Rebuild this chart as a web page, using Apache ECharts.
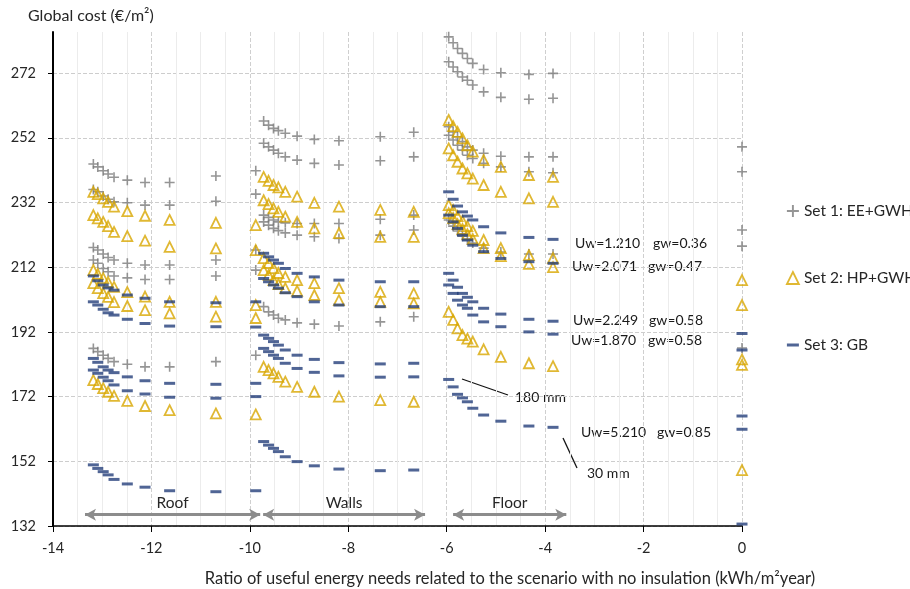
<!DOCTYPE html>
<html>
<head>
<meta charset="utf-8">
<script src="https://cdn.jsdelivr.net/npm/echarts@6/dist/echarts.min.js"></script>
<style>
  html, body { margin: 0; padding: 0; background: #fff; }
  #chart { width: 910px; height: 589px; }
</style>
</head>
<body>
<div id="chart"></div>
<script>
// x = ratio of useful energy needs, one value per insulation thickness (180 mm ... 30 mm)
const roofX  = [-13.18, -13.09, -12.98, -12.88, -12.76, -12.49, -12.13, -11.63, -10.69, -9.88];
const wallsX = [-9.72, -9.62, -9.52, -9.42, -9.28, -9.04, -8.69, -8.19, -7.35, -6.67];
const floorX = [-5.96, -5.87, -5.78, -5.68, -5.58, -5.47, -5.25, -4.90, -4.33, -3.84];

// rows = window types: Uw=1.210, Uw=2.071, Uw=2.249, Uw=1.870, Uw=5.210
const set1Roof = [
  [243.9, 243.0, 241.8, 240.8, 239.8, 238.9, 238.2, 238.2, 240.2, 241.8],
  [236.0, 235.3, 234.0, 233.0, 232.2, 231.9, 231.2, 231.2, 232.4, 234.6],
  [218.1, 217.3, 216.1, 215.0, 214.2, 213.2, 212.7, 212.7, 214.2, 217.3],
  [214.2, 213.2, 211.6, 210.6, 209.3, 208.7, 208.2, 208.2, 209.3, 211.1],
  [186.9, 185.9, 184.8, 183.8, 182.8, 182.0, 181.2, 181.2, 182.8, 184.8]
];
const set2Roof = [
  [235.3, 234.6, 233.3, 232.2, 230.7, 229.3, 227.9, 226.6, 225.7, 225.0],
  [228.1, 227.1, 226.0, 224.7, 222.9, 221.6, 220.2, 218.3, 217.8, 217.3],
  [211.1, 209.9, 208.6, 207.4, 205.9, 204.3, 202.9, 201.3, 201.3, 200.3],
  [207.1, 205.5, 204.0, 202.8, 201.2, 200.0, 198.7, 197.7, 196.7, 196.3],
  [177.1, 175.9, 174.6, 173.5, 172.2, 170.7, 169.1, 167.8, 166.8, 166.5]
];
const set3Roof = [
  [209.3, 207.8, 206.5, 205.6, 204.9, 203.4, 202.4, 201.3, 201.0, 201.3],
  [201.3, 200.3, 199.0, 197.9, 197.2, 195.9, 194.6, 193.8, 193.6, 193.5],
  [183.8, 182.6, 181.2, 180.2, 179.4, 178.1, 176.9, 176.1, 175.8, 176.1],
  [180.2, 179.2, 178.0, 176.9, 175.6, 173.8, 172.8, 171.8, 171.5, 172.0],
  [150.9, 149.8, 148.8, 147.8, 146.4, 145.0, 144.0, 142.9, 142.6, 142.9]
];

const set1Walls = [
  [257.2, 255.9, 254.9, 254.2, 253.4, 252.5, 251.5, 251.1, 252.3, 253.7],
  [250.3, 249.2, 248.2, 247.2, 246.1, 245.1, 244.1, 243.6, 244.9, 246.1],
  [228.1, 227.4, 226.6, 226.0, 225.7, 225.5, 225.5, 225.5, 226.8, 228.1],
  [226.0, 225.0, 224.0, 223.3, 222.6, 221.9, 221.4, 220.9, 221.9, 223.5],
  [199.8, 198.2, 197.2, 196.2, 195.7, 194.8, 194.4, 193.8, 195.1, 196.7]
];
const set2Walls = [
  [239.9, 238.7, 237.4, 236.7, 235.3, 233.8, 231.9, 230.7, 229.7, 229.1],
  [232.7, 231.5, 230.2, 229.1, 227.6, 226.0, 224.0, 222.5, 221.4, 221.4],
  [214.8, 213.3, 211.7, 210.2, 209.0, 208.0, 207.1, 205.5, 204.4, 203.9],
  [211.1, 209.6, 208.0, 206.8, 205.5, 204.7, 203.4, 201.8, 201.3, 200.8],
  [181.2, 180.2, 179.2, 178.1, 176.6, 175.0, 173.5, 172.0, 170.9, 170.4]
];
const set3Walls = [
  [216.3, 215.2, 214.2, 213.2, 211.6, 210.1, 209.0, 208.0, 207.5, 207.5],
  [208.5, 207.5, 206.5, 205.5, 204.1, 202.9, 201.3, 200.3, 199.8, 199.8],
  [191.0, 190.0, 189.0, 187.9, 186.4, 184.8, 183.5, 182.5, 182.1, 182.3],
  [186.9, 185.9, 184.8, 183.8, 182.3, 180.7, 179.5, 178.4, 178.0, 178.1],
  [158.1, 157.0, 156.0, 155.0, 153.4, 151.9, 150.6, 149.6, 149.1, 149.3]
];

const set1Floor = [
  [283.2, 281.4, 279.6, 278.1, 276.5, 275.0, 273.1, 272.1, 271.6, 271.9],
  [275.5, 273.9, 272.4, 270.8, 269.8, 268.3, 266.2, 264.5, 263.9, 264.2],
  [255.4, 253.8, 252.3, 250.8, 249.2, 248.2, 247.2, 246.3, 246.1, 246.1],
  [252.8, 251.3, 249.7, 248.2, 246.6, 245.6, 244.1, 243.0, 241.5, 241.2],
  [226.6, 224.7, 223.2, 221.6, 220.4, 219.5, 217.9, 216.7, 216.1, 216.1]
];
const set2Floor = [
  [257.5, 255.6, 253.8, 251.8, 249.7, 247.7, 245.1, 243.0, 240.5, 239.9],
  [248.7, 246.6, 244.6, 242.5, 241.0, 239.4, 237.4, 235.3, 233.3, 232.2],
  [231.2, 229.7, 227.8, 226.3, 224.7, 223.2, 220.4, 217.9, 215.7, 214.8],
  [228.7, 227.2, 225.3, 223.8, 222.2, 220.7, 217.9, 215.4, 213.0, 212.0],
  [198.2, 195.7, 193.1, 191.0, 189.9, 189.0, 186.6, 184.3, 182.3, 181.4]
];
const set3Floor = [
  [235.3, 233.0, 230.9, 229.1, 227.8, 226.6, 224.5, 222.6, 221.2, 220.6],
  [228.1, 226.0, 224.0, 221.9, 220.4, 218.8, 216.8, 214.7, 213.7, 213.2],
  [210.1, 208.0, 205.8, 203.9, 202.7, 201.3, 199.3, 197.5, 195.9, 195.3],
  [206.5, 203.9, 201.8, 200.3, 199.3, 197.2, 195.1, 193.6, 192.0, 191.3],
  [177.3, 175.0, 172.7, 171.6, 170.4, 168.4, 166.3, 164.4, 162.9, 162.5]
];

// scenario with no insulation (x = 0)
const set1NoIns = [249.2, 241.5, 223.5, 218.5, 187.0];
const set2NoIns = [208.0, 200.3, 183.5, 181.8, 149.3];
const set3NoIns = [191.5, 186.4, 166.0, 161.9, 132.6];

const setNames = ['Set 1: EE+GWH', 'Set 2: HP+GWH', 'Set 3: GB'];
const regionNames = ['Roof', 'Walls', 'Floor'];
const regionSpans = [[-13.35, -9.79], [-9.73, -6.44], [-5.87, -3.57]];
const arrowLevel = 135.5;

const plusPath = 'path://M4.2,0H5.8V10H4.2ZM0,4.2H10V5.8H0Z';
const dashPath = 'path://M0,0H12V3H0Z';
const grey = '#7b7b7b', gold = '#d8a600', navy = '#243f7a';

function pts(xs, rows) {
  return rows.flatMap(r => r.map((v, i) => [xs[i], v]));
}
function setData(roof, walls, floor, noIns) {
  return [].concat(pts(roofX, roof), pts(wallsX, walls), pts(floorX, floor),
    noIns.map(v => [0, v]));
}

const notes = [
  { text: 'Uw=1.210', x: 575, y: 243 }, { text: 'gw=0.36', x: 653, y: 243 },
  { text: 'Uw=2.071', x: 572, y: 266 }, { text: 'gw=0.47', x: 648, y: 266 },
  { text: 'Uw=2.249', x: 573, y: 320 }, { text: 'gw=0.58', x: 649, y: 320 },
  { text: 'Uw=1.870', x: 571, y: 340 }, { text: 'gw=0.58', x: 648, y: 340 },
  { text: 'Uw=5.210', x: 581, y: 432 }, { text: 'gw=0.85', x: 657, y: 432 },
  { text: '180 mm', x: 515, y: 397 }, { text: '30 mm', x: 587, y: 473 }
];

const font = 'Lato, "Open Sans", sans-serif';
const chart = echarts.init(document.getElementById('chart'));

chart.setOption({
  animation: false,
  textStyle: { fontFamily: font },
  grid: { left: 53, right: 168, top: 32, bottom: 63 },
  legend: {
    orient: 'vertical', left: 781, top: 198, itemGap: 51,
    itemWidth: 12, itemHeight: 12,
    textStyle: { fontSize: 15.5, color: '#262626', fontFamily: font },
    data: [
      { name: setNames[0], icon: plusPath, itemStyle: { color: grey } },
      { name: setNames[1], icon: 'triangle',
        itemStyle: { color: 'rgba(0,0,0,0)', borderColor: gold, borderWidth: 1.8 } },
      { name: setNames[2], icon: dashPath, itemStyle: { color: navy } }
    ]
  },
  xAxis: {
    type: 'value', min: -14, max: 0, interval: 2,
    axisLine: { onZero: false, lineStyle: { color: '#000', width: 1.5 } },
    axisTick: { length: 6, lineStyle: { color: '#000' } },
    axisLabel: { fontSize: 14.5, color: '#262626', margin: 15 },
    splitLine: { show: true, lineStyle: { color: '#cfcfcf', type: 'dashed' } },
    minorTick: { show: false, splitNumber: 4 },
    minorSplitLine: { show: true, lineStyle: { color: '#ececec' } }
  },
  yAxis: {
    type: 'value', min: 132, max: 284.7, interval: 20,
    axisLine: { show: true, onZero: false, lineStyle: { color: '#000', width: 2 } },
    axisTick: { show: true, length: 5, lineStyle: { color: '#000' } },
    axisLabel: { fontSize: 14.5, color: '#262626', margin: 17, showMaxLabel: false },
    splitLine: { showMaxLine: false, lineStyle: { color: '#cdcdcd', type: 'dashed' } }
  },
  series: [
    {
      name: setNames[0], type: 'scatter', clip: false,
      symbol: plusPath, symbolSize: 10,
      itemStyle: { color: grey },
      data: setData(set1Roof, set1Walls, set1Floor, set1NoIns)
    },
    {
      name: setNames[1], type: 'scatter', clip: false,
      symbol: 'triangle', symbolSize: 10,
      itemStyle: { color: 'rgba(0,0,0,0)', borderColor: gold, borderWidth: 1.8 },
      data: setData(set2Roof, set2Walls, set2Floor, set2NoIns)
    },
    {
      name: setNames[2], type: 'scatter', clip: false,
      symbol: 'rect', symbolSize: [11, 3],
      itemStyle: { color: navy },
      data: setData(set3Roof, set3Walls, set3Floor, set3NoIns)
    },
    {
      name: 'regions', type: 'scatter', data: [], silent: true,
      markLine: {
        silent: true, animation: false,
        symbol: ['arrow', 'arrow'], symbolSize: [9, 11],
        lineStyle: { color: '#8c8c8c', width: 3, type: 'solid' },
        label: { show: true, position: 'middle', formatter: '{b}', fontSize: 15.5,
                 color: '#262626', fontFamily: font, distance: 4 },
        emphasis: { disabled: true },
        data: regionSpans.map((s, i) => [
          { name: regionNames[i], coord: [s[0], arrowLevel] },
          { coord: [s[1], arrowLevel] }
        ])
      }
    }
  ],
  graphic: [
    { type: 'text', left: 28, top: 8,
      style: { text: 'Global cost (€/m²)', fontSize: 16, fontFamily: font, fill: '#262626' } },
    { type: 'text', x: 510, y: 579,
      style: { text: 'Ratio of useful energy needs related to the scenario with no insulation (kWh/m²year)',
               fontSize: 16.5, fontFamily: font, fill: '#262626', align: 'center', verticalAlign: 'middle' } },
    { type: 'line', shape: { x1: 462, y1: 379, x2: 508, y2: 395 },
      style: { stroke: '#111', lineWidth: 1.3 } },
    { type: 'line', shape: { x1: 563, y1: 438, x2: 577, y2: 468 },
      style: { stroke: '#111', lineWidth: 1.3 } }
  ].concat(notes.map(n => ({
    type: 'text', x: n.x, y: n.y,
    style: { text: n.text, fontSize: 14, fontFamily: font, fill: '#1a1a1a', verticalAlign: 'middle' }
  })))
});
</script>
</body>
</html>
